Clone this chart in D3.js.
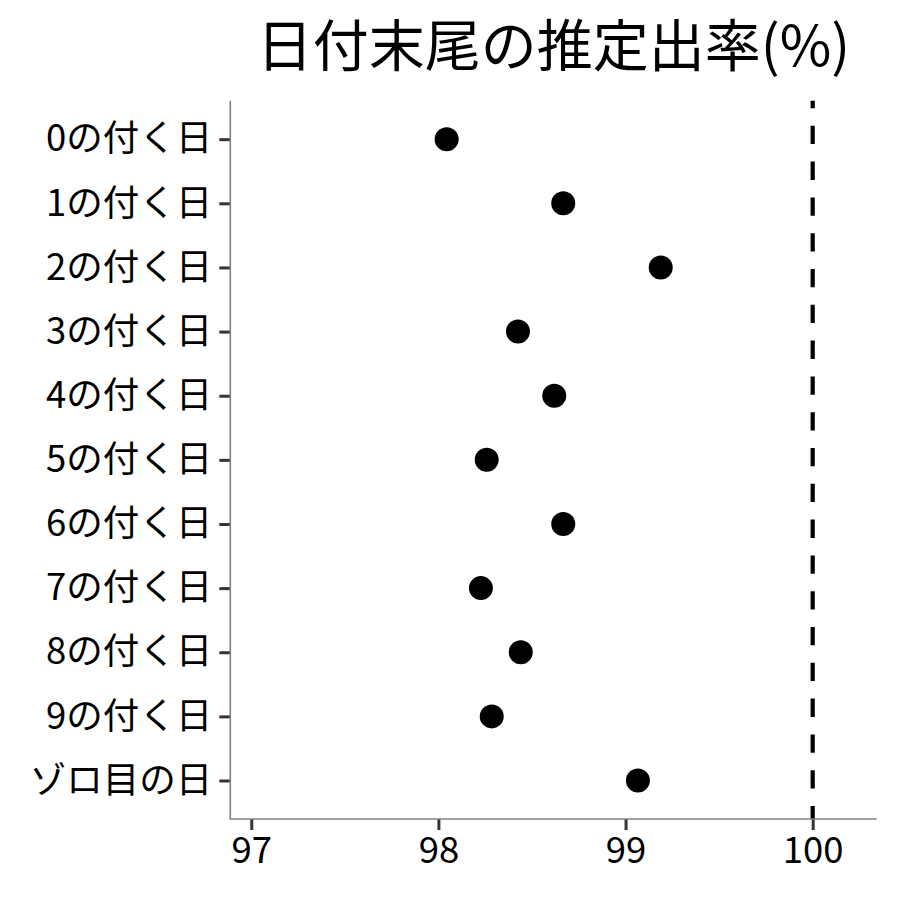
<!DOCTYPE html>
<html>
<head>
<meta charset="utf-8">
<script src="https://cdn.jsdelivr.net/npm/d3@7/dist/d3.min.js"></script>
<style>
  html, body { margin: 0; padding: 0; background: #fff; }
  svg { display: block; font-family: "Noto Sans CJK JP", "Noto Sans", sans-serif; }
</style>
</head>
<body>
<svg id="chart" width="900" height="900"></svg>
<script>
const title = "日付末尾の推定出率(%)";
const categories = ["0の付く日","1の付く日","2の付く日","3の付く日","4の付く日","5の付く日","6の付く日","7の付く日","8の付く日","9の付く日","ゾロ目の日"];
const values = [98.044, 98.667, 99.188, 98.425, 98.619, 98.258, 98.667, 98.227, 98.440, 98.285, 99.066];
const xTicks = [97, 98, 99, 100];
const refValue = 100;

const svg = d3.select("#chart");
const panel = { left: 230.3, right: 876.7, top: 100.7, bottom: 819 };
const FONT = '"Noto Sans CJK JP", sans-serif';

const x = d3.scaleLinear().domain([96.888, 100.342]).range([panel.left, panel.right]);
const y = d3.scalePoint().domain(categories).range([panel.top, panel.bottom]).padding(0.6);

// reference dashed line
svg.append("line")
  .attr("x1", x(refValue)).attr("x2", x(refValue))
  .attr("y1", panel.top).attr("y2", panel.bottom)
  .attr("stroke", "#000").attr("stroke-width", 4.2)
  .attr("stroke-dasharray", "18.3 17.5").attr("stroke-dashoffset", 10.7);

// points
svg.append("g").selectAll("circle")
  .data(categories.map((c, i) => ({ c, v: values[i] })))
  .join("circle")
  .attr("cx", d => x(d.v)).attr("cy", d => y(d.c))
  .attr("r", 12).attr("fill", "#000");

// x axis
const xAxis = svg.append("g").attr("transform", `translate(0,${panel.bottom})`)
  .call(d3.axisBottom(x).tickValues(xTicks).tickSize(11).tickPadding(7).tickFormat(d3.format("d")));
xAxis.select(".domain").remove();
xAxis.selectAll(".tick line").attr("stroke", "#333").attr("stroke-width", 3);
xAxis.selectAll(".tick text").attr("fill", "#000").attr("font-size", 36.5)
  .attr("font-family", FONT);

// y axis
const yAxis = svg.append("g").attr("transform", `translate(${panel.left},0)`)
  .call(d3.axisLeft(y).tickSize(11).tickPadding(7));
yAxis.select(".domain").remove();
yAxis.selectAll(".tick line").attr("stroke", "#333").attr("stroke-width", 3);
yAxis.selectAll(".tick text").attr("fill", "#000").attr("font-size", 36.5)
  .attr("font-family", FONT);

// axis lines
svg.append("line").attr("x1", panel.left).attr("x2", panel.left)
  .attr("y1", panel.top).attr("y2", panel.bottom)
  .attr("stroke", "#808080").attr("stroke-width", 1.6);
svg.append("line").attr("x1", panel.left - 0.8).attr("x2", panel.right)
  .attr("y1", panel.bottom).attr("y2", panel.bottom)
  .attr("stroke", "#808080").attr("stroke-width", 1.6);

// title
svg.append("text")
  .attr("x", (panel.left + panel.right) / 2).attr("y", 66)
  .attr("text-anchor", "middle").attr("font-size", 56)
  .attr("font-family", FONT).attr("fill", "#000")
  .text(title);
</script>
</body>
</html>
